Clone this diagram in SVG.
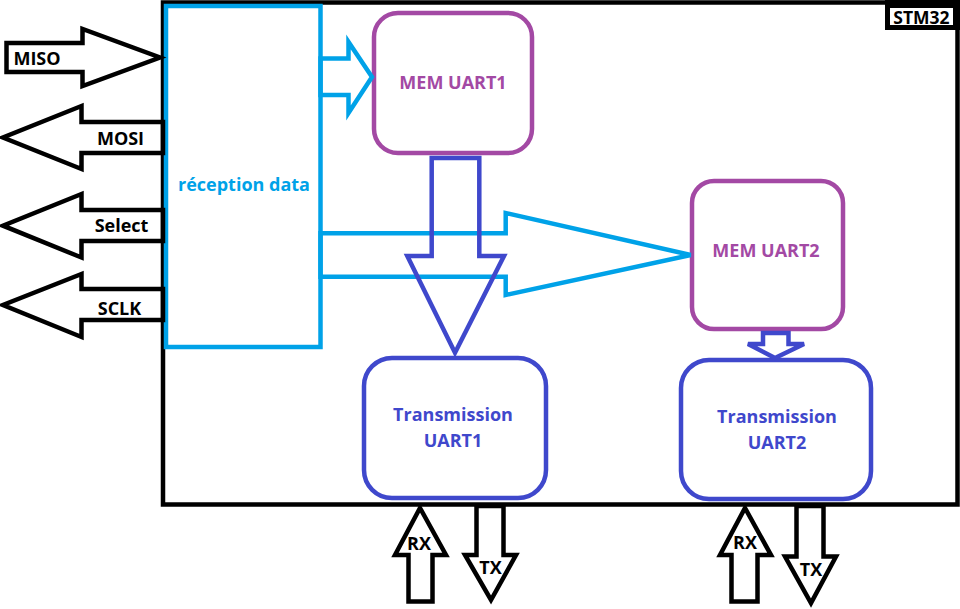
<svg xmlns="http://www.w3.org/2000/svg" width="960" height="609" viewBox="0 0 960 609">
<style>
text{font-family:"Open Sans","Noto Sans","Liberation Sans",sans-serif;font-weight:700;font-size:18px;text-anchor:middle}
.blk{fill:none;stroke:#000;stroke-width:4.5;stroke-linejoin:miter}
.cy{fill:none;stroke:#00a2e8;stroke-width:4.5}
.pu{fill:#fff;stroke:#a349a4;stroke-width:4.5}
.in{fill:#fff;stroke:#3f48cc;stroke-width:4.5}
.inl{fill:none;stroke:#3f48cc;stroke-width:4.5}
.tb{fill:#000}
.tc{fill:#00a2e8}
.tp{fill:#a349a4}
.ti{fill:#3f48cc}
</style>
<rect width="960" height="609" fill="#fff"/>
<g id="stm32">
<rect x="163" y="2.5" width="794.5" height="502" class="blk"/>
<rect x="885" y="0" width="75" height="30" fill="#000"/>
<rect x="890" y="8" width="63" height="17" fill="#fff"/>
<text x="921.5" y="23.5" class="tb" style="font-size:17.5px">STM32</text>
</g>
<g id="reception">
<rect x="166" y="6" width="154.5" height="341" fill="#fff" stroke="#00a2e8" stroke-width="4.5"/>
<text x="244" y="191" class="tc">réception data</text>
</g>
<g id="mem1">
<rect x="374" y="13" width="158" height="140" rx="24" class="pu"/>
<text x="453" y="89" class="tp">MEM UART1</text>
</g>
<g id="mem2">
<rect x="692" y="181" width="151" height="148" rx="22" class="pu"/>
<text x="766" y="257" class="tp">MEM UART2</text>
</g>
<g id="tx1">
<rect x="364" y="358" width="182" height="140" rx="28" class="in"/>
<text x="453" y="421" class="ti">Transmission</text>
<text x="453" y="447" class="ti">UART1</text>
</g>
<g id="tx2">
<rect x="681" y="360" width="190" height="139" rx="28" class="in"/>
<text x="777" y="423" class="ti">Transmission</text>
<text x="777" y="449" class="ti">UART2</text>
</g>
<g id="connectors">
<polygon class="blk" points="6.5,43 82.5,43 82.5,29 160,57.5 82.5,86 82.5,72 6.5,72"/>
<text x="37" y="64.5" class="tb">MISO</text>
<polygon class="blk" points="163,122 81.5,122 81.5,106 3,137.5 81.5,169 81.5,153 163,153"/>
<text x="120.5" y="145" class="tb">MOSI</text>
<polygon class="blk" points="163,210 81.5,210 81.5,194 3,225.7 81.5,257.5 81.5,241 163,241"/>
<text x="121.5" y="232" class="tb">Select</text>
<polygon class="blk" points="163,289 81.5,289 81.5,274 3,305 81.5,337 81.5,320 163,320"/>
<text x="119.5" y="315" class="tb">SCLK</text>
<polygon class="cy" points="320.5,58.5 348.5,58.5 348.5,42 372,77 348.5,113 348.5,95 320.5,95"/>
<polygon class="cy" points="320.5,233.3 505.7,233.3 505.7,213 690.7,255 505.7,295 505.7,276.7 320.5,276.7"/>
<polygon class="inl" points="431.7,158 479.3,158 479.3,256 504,256 455,352.7 407.3,256 431.7,256"/>
<polygon class="inl" points="763,333 788.5,333 788.5,344 804,344 775,358 748,344 763,344"/>
<polygon class="blk" points="420,508 446,555 432.5,555 432.5,601.5 408.5,601.5 408.5,555 395,555"/>
<text x="419" y="550" class="tb">RX</text>
<polygon class="blk" points="476.5,506 503.5,506 503.5,555 516,555 491,600 465,555 476.5,555"/>
<text x="490.5" y="574" class="tb">TX</text>
<polygon class="blk" points="745,508 771,555 757.5,555 757.5,601.5 731.5,601.5 731.5,555 720,555"/>
<text x="745" y="549" class="tb">RX</text>
<polygon class="blk" points="796.5,506 823.5,506 823.5,556.5 836,556.5 811,603 785,556.5 796.5,556.5"/>
<text x="811" y="576" class="tb">TX</text>
</g>
</svg>
